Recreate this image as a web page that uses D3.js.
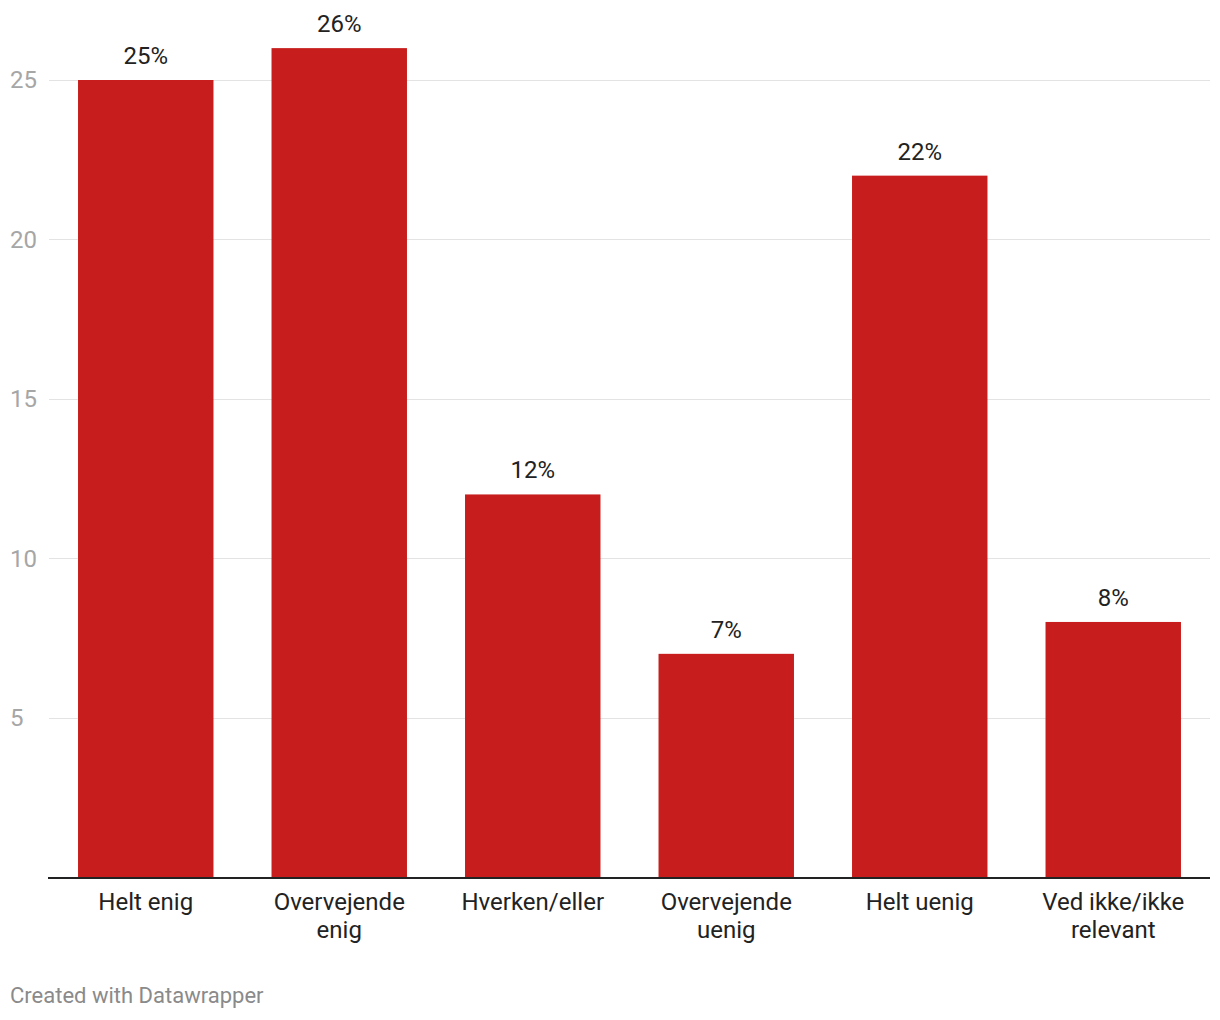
<!DOCTYPE html>
<html lang="no">
  <head>
    <meta charset="utf-8">
    <title>Enighet</title>
    <script src="https://cdn.jsdelivr.net/npm/d3@7"></script>
    <style>
      body { margin: 0; background: #fff; }
      text { font-family: Roboto, "Noto Sans", sans-serif; }
    </style>
  </head>
  <body>
    <script>
      // data
      const categories = [["Helt enig"], ["Overvejende", "enig"], ["Hverken/eller"],
                          ["Overvejende", "uenig"], ["Helt uenig"], ["Ved ikke/ikke", "relevant"]];
      const values = [25, 26, 12, 7, 22, 8];
      const yTicks = [5, 10, 15, 20, 25];

      const WIDTH = 1220, HEIGHT = 1020;
      const X0 = 49, X1 = 1210;
      const Y_BASE = 877, Y_TOP = 80; // y of 0 and 25
      const BAR_COLOR = "#c71e1d";

      let svg = d3.select("body").append("svg")
        .attr("width", WIDTH)
        .attr("height", HEIGHT);

      let x = d3.scaleBand()
        .domain(d3.range(values.length))
        .range([X0, X1])
        .paddingInner(0.3)
        .paddingOuter(0.15);

      let y = d3.scaleLinear()
        .domain([0, 25])
        .range([Y_BASE, Y_TOP]);

      // grid lines
      svg.append("g").selectAll("line")
        .data(yTicks)
        .join("line")
        .attr("x1", X0)
        .attr("x2", X1)
        .attr("y1", d => Math.round(y(d)) + 0.5)
        .attr("y2", d => Math.round(y(d)) + 0.5)
        .attr("stroke", "#e3e3e3")
        .attr("stroke-width", 1);

      // y tick labels
      svg.append("g").selectAll("text")
        .data(yTicks)
        .join("text")
        .attr("x", 10)
        .attr("y", d => y(d))
        .attr("dy", "0.35em")
        .attr("font-size", 24)
        .attr("fill", "#a6a6a6")
        .text(d => d);

      // bars
      svg.append("g").selectAll("rect")
        .data(values)
        .join("rect")
        .attr("x", (d, i) => x(i))
        .attr("y", d => y(d))
        .attr("width", x.bandwidth())
        .attr("height", d => y(0) - y(d))
        .attr("fill", BAR_COLOR);

      // value labels
      svg.append("g").selectAll("text")
        .data(values)
        .join("text")
        .attr("x", (d, i) => x(i) + x.bandwidth() / 2)
        .attr("y", d => y(d) - 16)
        .attr("text-anchor", "middle")
        .attr("font-size", 24)
        .attr("fill", "#222")
        .text(d => d + "%");

      // baseline
      svg.append("line")
        .attr("x1", 48)
        .attr("x2", X1)
        .attr("y1", Y_BASE + 1)
        .attr("y2", Y_BASE + 1)
        .attr("stroke", "#222")
        .attr("stroke-width", 2);

      // category labels
      let cat = svg.append("g").selectAll("text")
        .data(categories)
        .join("text")
        .attr("text-anchor", "middle")
        .attr("font-size", 24)
        .attr("fill", "#222");
      cat.each(function (lines, i) {
        d3.select(this).selectAll("tspan")
          .data(lines)
          .join("tspan")
          .attr("x", x(i) + x.bandwidth() / 2)
          .attr("y", (l, j) => 910 + j * 28)
          .text(l => l);
      });

      // footer
      svg.append("text")
        .attr("x", 10)
        .attr("y", 1003)
        .attr("font-size", 22)
        .attr("fill", "#8a8a8a")
        .text("Created with Datawrapper");
    </script>
  </body>
</html>
